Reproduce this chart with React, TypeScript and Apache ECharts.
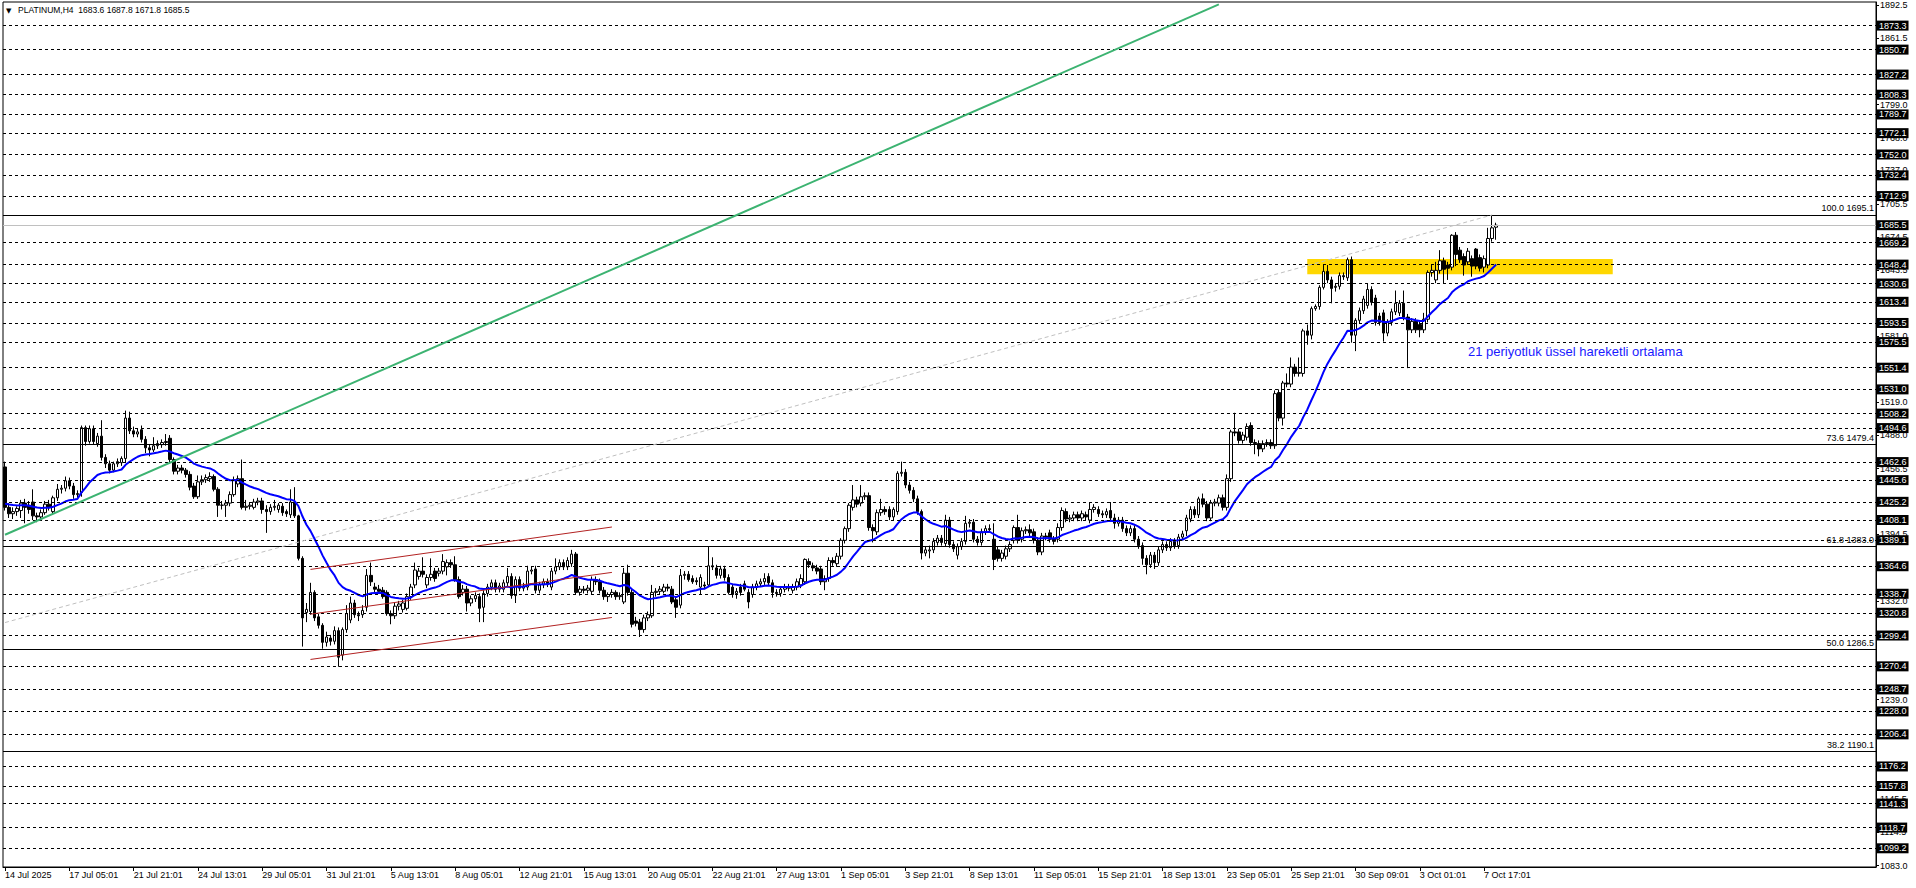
import React, { useEffect, useRef } from 'react';
import * as echarts from 'echarts';

// ---- data ----
const symbolName = 'PLATINUM';
const timeframe = 'H4';
const emaNote = '21 periyotluk üssel hareketli ortalama';

// [open, high, low, close]
const candles: number[][] = [
  [1458,1463,1417,1420],[1420,1424,1410,1414],[1414,1420,1409,1416],[1416,1421,1412,1419],[1417,1427,1410,1424],
  [1424,1428,1405,1420],[1422,1426,1414,1418],[1425,1437,1408,1412],[1412,1415,1406,1411],[1411,1418,1408,1415],
  [1415,1426,1413,1423],[1423,1427,1417,1420],[1416,1431,1413,1429],[1429,1442,1426,1437],[1437,1441,1433,1438],
  [1438,1449,1435,1445],[1445,1448,1437,1440],[1440,1443,1428,1432],[1432,1436,1429,1433],[1434,1497,1430,1495],
  [1495,1497,1478,1482],[1482,1497,1480,1494],[1494,1497,1479,1482],[1480,1490,1477,1487],[1487,1502,1464,1467],
  [1467,1470,1457,1461],[1461,1464,1452,1455],[1455,1463,1453,1461],[1461,1466,1458,1463],[1462,1468,1459,1466],
  [1466,1511,1462,1504],[1504,1510,1489,1492],[1492,1496,1486,1489],[1489,1494,1486,1491],[1493,1497,1481,1484],
  [1484,1487,1471,1476],[1476,1479,1468,1474],[1474,1486,1472,1478],[1478,1483,1475,1480],[1479,1484,1476,1481],
  [1481,1489,1478,1482],[1485,1488,1462,1465],[1465,1467,1451,1454],[1454,1460,1451,1457],[1457,1460,1452,1455],
  [1455,1457,1448,1451],[1451,1454,1436,1439],[1440,1443,1428,1430],[1430,1450,1428,1444],[1444,1450,1441,1446],
  [1446,1451,1443,1448],[1447,1453,1444,1449],[1449,1451,1435,1437],[1437,1439,1411,1422],[1422,1426,1418,1422],
  [1422,1427,1411,1424],[1424,1435,1421,1432],[1432,1449,1430,1446],[1442,1450,1439,1447],[1447,1465,1418,1420],
  [1420,1427,1417,1421],[1421,1425,1418,1422],[1420,1428,1418,1425],[1425,1429,1422,1426],[1426,1429,1414,1418],
  [1418,1422,1396,1416],[1416,1423,1413,1420],[1420,1427,1417,1421],[1418,1424,1415,1422],[1421,1424,1412,1415],
  [1416,1418,1411,1414],[1413,1437,1410,1425],[1425,1439,1410,1412],[1412,1413,1370,1372],[1372,1374,1289,1316],
  [1321,1330,1312,1324],[1322,1349,1319,1340],[1340,1342,1313,1316],[1317,1320,1306,1309],[1309,1311,1287,1293],
  [1293,1303,1289,1298],[1297,1300,1290,1294],[1294,1308,1291,1304],[1304,1307,1270,1279],[1281,1307,1276,1305],
  [1305,1328,1302,1320],[1314,1336,1311,1330],[1330,1333,1316,1319],[1319,1322,1313,1318],[1319,1328,1316,1323],
  [1326,1362,1322,1356],[1356,1368,1346,1350],[1345,1349,1340,1343],[1343,1347,1339,1341],[1342,1345,1334,1336],
  [1340,1342,1318,1320],[1320,1323,1310,1318],[1318,1330,1315,1327],[1327,1332,1323,1329],[1324,1333,1321,1330],
  [1325,1339,1323,1336],[1336,1348,1333,1345],[1347,1368,1344,1361],[1355,1363,1352,1360],[1360,1373,1354,1357],
  [1347,1357,1344,1354],[1354,1372,1351,1357],[1360,1363,1350,1353],[1358,1363,1355,1360],[1360,1376,1357,1369],
  [1364,1371,1356,1368],[1368,1371,1363,1366],[1366,1374,1350,1352],[1352,1355,1334,1336],[1340,1347,1337,1343],
  [1343,1346,1322,1330],[1330,1337,1327,1334],[1334,1340,1331,1337],[1336,1339,1312,1325],[1326,1342,1312,1339],
  [1339,1348,1336,1345],[1345,1352,1342,1349],[1349,1352,1340,1343],[1343,1349,1340,1346],[1343,1352,1340,1349],
  [1349,1363,1346,1355],[1355,1358,1334,1337],[1337,1355,1330,1352],[1352,1355,1341,1344],[1344,1349,1341,1346],
  [1345,1365,1342,1360],[1360,1364,1357,1361],[1362,1365,1339,1342],[1342,1350,1339,1347],[1347,1353,1344,1350],
  [1350,1353,1345,1348],[1345,1363,1342,1360],[1360,1372,1357,1364],[1364,1371,1361,1368],[1368,1371,1361,1364],
  [1364,1373,1361,1370],[1367,1380,1364,1376],[1376,1378,1338,1340],[1340,1346,1337,1343],[1343,1346,1339,1342],
  [1342,1347,1339,1344],[1341,1355,1338,1352],[1352,1355,1347,1350],[1350,1353,1339,1342],[1342,1345,1333,1336],
  [1336,1340,1331,1338],[1338,1343,1335,1340],[1340,1342,1333,1336],[1336,1340,1333,1337],[1331,1363,1329,1358],
  [1358,1366,1337,1340],[1340,1343,1307,1310],[1313,1317,1308,1311],[1312,1315,1298,1305],[1305,1319,1302,1316],
  [1316,1322,1313,1319],[1318,1347,1316,1340],[1340,1344,1336,1341],[1341,1346,1338,1343],[1341,1348,1339,1345],
  [1345,1348,1341,1344],[1343,1346,1329,1331],[1333,1336,1316,1326],[1328,1362,1325,1356],[1356,1360,1352,1357],
  [1357,1360,1350,1352],[1353,1356,1348,1350],[1351,1354,1347,1350],[1345,1357,1338,1354],[1347,1350,1343,1346],
  [1347,1383,1345,1365],[1365,1373,1361,1364],[1363,1366,1353,1356],[1356,1365,1353,1362],[1362,1365,1351,1354],
  [1354,1357,1338,1340],[1345,1348,1335,1338],[1339,1344,1334,1341],[1345,1348,1337,1340],[1348,1351,1341,1343],
  [1340,1343,1325,1331],[1338,1348,1335,1345],[1345,1351,1342,1348],[1348,1353,1345,1350],[1350,1358,1347,1353],
  [1355,1358,1346,1349],[1349,1352,1335,1340],[1340,1343,1336,1339],[1339,1346,1336,1343],[1343,1348,1340,1345],
  [1345,1348,1341,1344],[1342,1348,1339,1345],[1345,1353,1342,1350],[1347,1357,1344,1353],[1350,1372,1347,1371],
  [1369,1372,1363,1366],[1365,1368,1360,1363],[1363,1366,1357,1360],[1362,1365,1347,1350],[1350,1356,1342,1353],
  [1353,1373,1350,1370],[1370,1373,1365,1368],[1367,1377,1364,1374],[1374,1391,1371,1389],[1389,1402,1386,1400],
  [1400,1424,1397,1422],[1420,1441,1417,1427],[1427,1430,1420,1423],[1424,1441,1421,1430],[1430,1434,1427,1431],
  [1431,1434,1398,1401],[1401,1404,1387,1398],[1397,1418,1394,1415],[1415,1428,1412,1418],[1418,1421,1413,1416],
  [1418,1421,1408,1411],[1411,1420,1408,1418],[1416,1454,1413,1452],[1452,1463,1449,1453],[1453,1456,1438,1441],
  [1441,1444,1433,1436],[1436,1439,1425,1428],[1428,1431,1413,1416],[1416,1418,1371,1377],[1377,1383,1374,1380],
  [1379,1384,1372,1380],[1380,1391,1377,1388],[1387,1394,1384,1391],[1391,1394,1384,1387],[1386,1413,1383,1408],
  [1408,1411,1382,1385],[1385,1388,1378,1381],[1375,1386,1371,1383],[1383,1391,1380,1388],[1388,1412,1385,1405],
  [1405,1409,1401,1406],[1406,1409,1387,1390],[1390,1393,1384,1387],[1387,1400,1384,1397],[1397,1403,1394,1400],
  [1400,1404,1396,1399],[1390,1405,1361,1371],[1380,1383,1369,1372],[1372,1380,1369,1377],[1374,1384,1371,1381],
  [1381,1388,1378,1385],[1389,1403,1386,1401],[1401,1413,1386,1389],[1390,1401,1387,1398],[1398,1402,1395,1399],
  [1399,1404,1393,1396],[1397,1400,1386,1389],[1389,1392,1375,1378],[1378,1396,1375,1393],[1393,1396,1389,1392],
  [1396,1399,1387,1390],[1390,1393,1385,1388],[1390,1405,1387,1401],[1401,1420,1398,1417],[1416,1419,1406,1409],
  [1409,1413,1406,1410],[1410,1416,1407,1413],[1413,1416,1407,1410],[1410,1417,1407,1414],[1413,1416,1408,1411],
  [1408,1425,1405,1418],[1418,1423,1415,1420],[1418,1421,1411,1414],[1414,1417,1410,1413],[1413,1419,1410,1416],
  [1417,1425,1407,1410],[1410,1414,1400,1405],[1405,1411,1402,1408],[1408,1411,1397,1400],[1400,1403,1393,1396],
  [1396,1403,1393,1400],[1400,1403,1387,1390],[1390,1393,1381,1384],[1384,1387,1366,1372],[1372,1375,1357,1366],
  [1366,1378,1363,1375],[1375,1378,1362,1368],[1368,1383,1365,1380],[1380,1388,1377,1385],[1385,1388,1379,1382],
  [1382,1391,1379,1388],[1388,1391,1381,1384],[1384,1395,1381,1392],[1392,1398,1389,1395],[1398,1413,1393,1410],
  [1409,1421,1406,1418],[1418,1421,1410,1413],[1413,1430,1410,1428],[1428,1433,1420,1423],[1423,1426,1407,1410],
  [1410,1427,1407,1424],[1424,1428,1421,1425],[1424,1432,1421,1429],[1429,1432,1417,1420],[1420,1451,1417,1447],
  [1447,1493,1444,1491],[1491,1509,1487,1490],[1491,1494,1480,1483],[1483,1491,1480,1488],[1486,1499,1483,1496],
  [1497,1500,1478,1481],[1481,1484,1470,1480],[1480,1483,1468,1475],[1475,1483,1472,1480],[1480,1484,1477,1481],
  [1481,1484,1475,1478],[1478,1530,1475,1527],[1528,1531,1501,1504],[1504,1539,1497,1537],[1537,1546,1533,1536],
  [1536,1561,1533,1552],[1552,1555,1543,1546],[1546,1561,1543,1547],[1546,1588,1543,1586],[1586,1592,1573,1582],
  [1582,1609,1578,1607],[1607,1611,1605,1609],[1609,1629,1606,1627],[1627,1648,1625,1642],[1642,1648,1631,1634],
  [1634,1637,1612,1626],[1627,1631,1623,1628],[1628,1641,1625,1638],[1638,1641,1634,1637],[1636,1655,1633,1653],
  [1653,1656,1575,1582],[1582,1598,1567,1596],[1596,1608,1593,1605],[1605,1619,1602,1616],[1610,1631,1607,1625],
  [1625,1628,1610,1613],[1617,1620,1591,1594],[1600,1603,1591,1594],[1603,1606,1576,1584],[1584,1597,1581,1594],
  [1594,1607,1591,1604],[1604,1624,1601,1612],[1603,1615,1600,1612],[1612,1624,1596,1599],[1599,1602,1551,1587],
  [1587,1598,1584,1595],[1595,1598,1584,1587],[1592,1595,1580,1587],[1587,1603,1584,1597],[1597,1643,1594,1641],
  [1641,1648,1637,1643],[1634,1651,1631,1643],[1643,1662,1640,1652],[1652,1655,1631,1644],[1648,1651,1634,1645],
  [1646,1677,1643,1676],[1676,1679,1647,1658],[1662,1665,1650,1653],[1656,1659,1638,1648],[1651,1664,1648,1661],
  [1654,1657,1637,1647],[1663,1664,1644,1647],[1655,1658,1642,1645],[1646,1657,1641,1654],[1648,1683,1645,1673],
  [1673,1695.1,1670,1683],[1683.6,1687.8,1671.8,1685.5],
];

const timeLabels = [
  '14 Jul 2025', '17 Jul 05:01', '21 Jul 21:01', '24 Jul 13:01', '29 Jul 05:01', '31 Jul 21:01',
  '5 Aug 13:01', '8 Aug 05:01', '12 Aug 21:01', '15 Aug 13:01', '20 Aug 05:01', '22 Aug 21:01',
  '27 Aug 13:01', '1 Sep 05:01', '3 Sep 21:01', '8 Sep 13:01', '11 Sep 05:01', '15 Sep 21:01',
  '18 Sep 13:01', '23 Sep 05:01', '25 Sep 21:01', '30 Sep 09:01', '3 Oct 01:01', '7 Oct 17:01',
];
const labelStep = 16;
const totalSlots = 466;

const scaleTicks = [
  1892.5, 1861.5, 1830.5, 1799.0, 1768.0, 1737.0, 1705.5, 1674.5, 1643.5, 1612.5, 1581.0, 1550.0,
  1519.0, 1488.0, 1456.5, 1425.5, 1394.5, 1363.5, 1332.0, 1301.0, 1270.0, 1239.0, 1207.5, 1176.5,
  1145.5, 1114.5, 1083.0,
];

const dashedLevels = [
  1873.3, 1850.7, 1827.2, 1808.3, 1789.7, 1772.1, 1752.0, 1732.4, 1712.9, 1669.2, 1648.4, 1630.6,
  1613.4, 1593.5, 1575.5, 1551.4, 1531.0, 1508.2, 1494.6, 1462.6, 1445.6, 1425.2, 1408.1, 1389.1,
  1364.6, 1338.7, 1320.8, 1299.4, 1270.4, 1248.7, 1228.0, 1206.4, 1176.2, 1157.8, 1141.3, 1118.7,
  1099.2,
];

const fibRatios = ['100.0', '73.6', '61.8', '50.0', '38.2'];
const fibPrices = [1695.1, 1479.4, 1383.0, 1286.5, 1190.1];

const bidPrice = 1685.5;
const emaPeriod = 21;
const emaSeed = 1424;

// trend lines: [barIndex, price] pairs
const greenTrend = [[0, 1394.2], [302, 1893.3]];
const fibTrend = [[0, 1311.6], [370, 1695.1]];
const redChannel = [
  [[76, 1361.6], [151, 1401.5]],
  [[76, 1319.5], [151, 1358.8]],
  [[76, 1276.9], [151, 1316.4]],
];
const yellowZone = [[324, 1653.7], [400, 1639.3]];

const yMin = 1081.6;
const yMax = 1895.5;

const FONT = "'Liberation Sans', Arial, sans-serif";

export default function App() {
  const ref = useRef<HTMLDivElement>(null);

  useEffect(() => {
    if (!ref.current) return;
    const chart = echarts.init(ref.current, undefined, { renderer: 'svg' });

    const cats = Array.from({ length: totalSlots }, (_, i) => String(i));
    const candleData = candles.map(([o, h, l, c]) => [o, c, Math.min(l, o, c), Math.max(h, o, c)]);

    const alpha = 2 / (emaPeriod + 1);
    const ema: number[] = [];
    let prev = emaSeed;
    for (const k of candles) {
      prev = prev + alpha * (k[3] - prev);
      ema.push(+prev.toFixed(2));
    }

    // scale labels that sit fully under a black level box are not visible in the reference
    const boxed = [...dashedLevels, bidPrice];
    const labelTicks = scaleTicks.filter((v) => !boxed.some((d) => Math.abs(d - v) < 3.5));

    const last = candles[candles.length - 1];
    const title = `${symbolName},${timeframe}  ${last.map((v) => v.toFixed(1)).join(' ')}`;

    const boxLabel = (v: number) => ({
      show: true,
      position: 'end',
      distance: 1,
      formatter: v.toFixed(1),
      color: '#fff',
      backgroundColor: '#000',
      padding: [1, 2, 0, 2],
      fontSize: 9,
      fontFamily: FONT,
    });

    const hLines: any[] = dashedLevels.map((v) => ({
      yAxis: v,
      lineStyle: { color: '#000', type: [3, 3], width: 1 },
      label: boxLabel(v),
    }));
    hLines.push({
      yAxis: bidPrice,
      lineStyle: { color: '#c0c0c0', type: 'solid', width: 1 },
      label: boxLabel(bidPrice),
    });
    fibPrices.forEach((v, i) => {
      hLines.push({
        yAxis: v,
        lineStyle: { color: '#000', type: 'solid', width: 1 },
        label: {
          show: true,
          position: 'insideEndTop',
          distance: 2,
          formatter: `${fibRatios[i]} ${v.toFixed(1)}`,
          color: '#000',
          fontSize: 9,
          fontFamily: FONT,
        },
      });
    });

    const seg = (pts: number[][], color: string, type: any, width: number) => [
      { coord: [String(pts[0][0]), pts[0][1]], lineStyle: { color, type, width }, label: { show: false } },
      { coord: [String(pts[1][0]), pts[1][1]] },
    ];

    const segLines: any[] = [
      seg(greenTrend, '#3cb371', 'solid', 2),
      seg(fibTrend, '#c0c0c0', [4, 3], 1),
      ...redChannel.map((p) => seg(p, '#b22222', 'solid', 1)),
    ];

    const option: any = {
      animation: false,
      backgroundColor: '#fff',
      textStyle: { fontFamily: FONT },
      grid: {
        left: 3,
        right: 40,
        top: 2,
        bottom: 21,
        show: true,
        borderColor: '#000',
        borderWidth: 1,
        backgroundColor: '#fff',
        containLabel: false,
      },
      xAxis: {
        type: 'category',
        data: cats,
        boundaryGap: true,
        axisLine: { show: true, lineStyle: { color: '#000', width: 1 } },
        axisTick: {
          show: true,
          alignWithLabel: true,
          length: 4,
          interval: (i: number) => i % labelStep === 0 && i / labelStep < timeLabels.length,
          lineStyle: { color: '#000' },
        },
        axisLabel: {
          show: true,
          interval: (i: number) => i % labelStep === 0 && i / labelStep < timeLabels.length,
          formatter: (_v: string, i: number) => timeLabels[Math.round(i / labelStep)] ?? '',
          align: 'left',
          margin: 3,
          fontSize: 9,
          color: '#000',
          fontFamily: FONT,
        },
        splitLine: { show: false },
      },
      yAxis: {
        type: 'value',
        position: 'right',
        min: yMin,
        max: yMax,
        axisLine: { show: true, lineStyle: { color: '#000', width: 1 } },
        axisTick: { show: true, customValues: scaleTicks, length: 3, lineStyle: { color: '#000' } },
        axisLabel: {
          show: true,
          customValues: labelTicks,
          formatter: (v: number) => v.toFixed(1),
          margin: 4,
          fontSize: 9,
          color: '#000',
          fontFamily: FONT,
        },
        splitLine: { show: false },
      },
      graphic: [
        { type: 'text', left: 6, top: 7, z: 100, style: { text: '▼', fontSize: 7, fill: '#000', fontFamily: 'DejaVu Sans' } },
        { type: 'text', left: 18, top: 5, z: 100, style: { text: title, fontSize: 8.5, fill: '#000', fontFamily: FONT } },
        { type: 'text', left: 1468, top: 345, z: 100, style: { text: emaNote, fontSize: 13, fill: '#1a1aff', fontFamily: FONT } },
      ],
      series: [
        {
          type: 'line',
          data: [],
          z: 1,
          silent: true,
          markArea: {
            silent: true,
            itemStyle: { color: '#ffd700', opacity: 1 },
            data: [[
              { xAxis: String(yellowZone[0][0]), yAxis: yellowZone[0][1] },
              { xAxis: String(yellowZone[1][0]), yAxis: yellowZone[1][1] },
            ]],
          },
        },
        {
          type: 'line',
          data: [],
          z: 2,
          silent: true,
          markLine: {
            silent: true,
            symbol: ['none', 'none'],
            animation: false,
            data: [...hLines, ...segLines],
          },
        },
        {
          type: 'candlestick',
          data: candleData,
          barWidth: 3,
          z: 3,
          silent: true,
          itemStyle: {
            color: '#fff',
            color0: '#000',
            borderColor: '#000',
            borderColor0: '#000',
            borderWidth: 1,
          },
        },
        {
          type: 'line',
          data: ema,
          z: 4,
          silent: true,
          symbol: 'none',
          lineStyle: { color: '#0000ff', width: 2 },
        },
      ],
    };

    chart.setOption(option);
    return () => chart.dispose();
  }, []);

  return (
    <div
      ref={ref}
      style={{ position: 'absolute', left: 0, top: 0, width: 1916, height: 888, background: '#fff' }}
    />
  );
}
